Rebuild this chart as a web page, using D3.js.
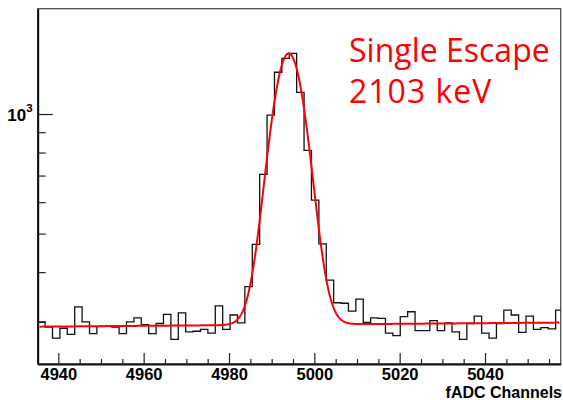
<!DOCTYPE html>
<html><head><meta charset="utf-8">
<script src="https://cdn.jsdelivr.net/npm/d3@7"></script>
<style>body{margin:0;background:#fff}svg{display:block}</style>
</head><body>
<svg id="chart" width="563" height="400"></svg>
<script>
// ---- data ----
const binStart = 4935.17;     // lower edge of first bin (fADC channel)
const binWidth = 1.734;       // channels per bin
const counts = [300,291,273,289,279,327,300,280,292,292,
                291,280,300,307,295,280,297,313,271,316,
                283,284,287,281,329,287,312,298,368,470,
                705,994,1274,1380,1421,1134,810,607,471,382,
                335,334,319,342,299,307,306,281,277,309,
                318,285,285,302,285,298,283,271,297,310,
                281,273,297,321,312,282,310,287,290,288,321];
const xMajorTicks = [4940,4960,4980,5000,5020,5040];
const xMajorLabels = ["4940","4960","4980","5000","5020","5040"];
const xMinorTicks = [4945,4950,4955,4965,4970,4975,4985,4990,4995,5005,5010,5015,5025,5030,5035,5045,5050,5055];
const yMajorTicks = [1000];
const yMajorBase = ["10"];
const yMajorExp = ["3"];
const yMinorTicks = [300,400,500,600,700,800,900];
const fitParams = [1126, 4994.0, 3.9, 295, 0.057]; // amplitude, mean, sigma, background, background slope
const annotation = ["Single Escape", "2103 keV"];
const xTitle = "fADC Channels";

// ---- layout ----
const L = 37.7, R = 560.7, T = 8.7, B = 364;
const svg = d3.select("#chart");
const x = d3.scaleLinear().domain([4935.17, 5057.74]).range([L, R]);
const y = d3.scaleLog().domain([234.9, 1841]).range([B, T]);

svg.append("defs").append("clipPath").attr("id","frame")
  .append("rect").attr("x",L).attr("y",T).attr("width",R-L).attr("height",B-T);

// frame (top/right thin)
svg.append("rect").attr("x",L).attr("y",T).attr("width",R-L).attr("height",B-T)
  .attr("fill","none").attr("stroke","#444").attr("stroke-width",1.2);

// histogram
const pts = counts.map((c,i)=>[binStart+i*binWidth, c]);
pts.push([binStart+counts.length*binWidth, counts[counts.length-1]]);
const histLine = d3.line().x(d=>x(d[0])).y(d=>y(d[1])).curve(d3.curveStepAfter);
svg.append("path").attr("clip-path","url(#frame)")
  .attr("d", histLine(pts)).attr("fill","none").attr("stroke","#111").attr("stroke-width",1.3);

// fit curve
const [A, mu, sg, bg, slope] = fitParams;
const fitX = d3.range(4935.6, 5057.6, 0.2);
const fitLine = d3.line().x(d=>x(d)).y(d=>y(A*Math.exp(-0.5*((d-mu)/sg)**2) + bg + slope*(d-mu)));
svg.append("path").attr("clip-path","url(#frame)")
  .attr("d", fitLine(fitX)).attr("fill","none").attr("stroke","#ff0000").attr("stroke-width",2);

// x axis
const font = "'Liberation Sans', Arial, Helvetica, sans-serif";
const gx = svg.append("g").attr("transform",`translate(0,${B})`);
gx.call(d3.axisBottom(x).tickValues(xMajorTicks).tickFormat((d,i)=>xMajorLabels[i])
  .tickSizeInner(-11).tickSizeOuter(0).tickPadding(4));
const gxm = svg.append("g").attr("transform",`translate(0,${B})`);
gxm.call(d3.axisBottom(x).tickValues(xMinorTicks).tickFormat("").tickSizeInner(-5).tickSizeOuter(0));
gxm.select(".domain").remove();
gx.selectAll("text").attr("font-family",font).attr("font-weight","bold").attr("font-size",16.5).attr("fill","#000");
gx.select(".domain").attr("stroke","#111").attr("stroke-width",2);
svg.selectAll(".tick line").attr("stroke","#222").attr("stroke-width",1.2);

// y axis
const gy = svg.append("g").attr("transform",`translate(${L},0)`);
gy.call(d3.axisLeft(y).tickValues(yMajorTicks).tickFormat("").tickSizeInner(-15).tickSizeOuter(0).tickPadding(5));
const gym = svg.append("g").attr("transform",`translate(${L},0)`);
gym.call(d3.axisLeft(y).tickValues(yMinorTicks).tickFormat("").tickSizeInner(-8).tickSizeOuter(0));
gym.select(".domain").remove();
gy.select(".domain").attr("stroke","#111").attr("stroke-width",2);
gy.selectAll(".tick line").attr("stroke","#222").attr("stroke-width",1.2);
gym.selectAll(".tick line").attr("stroke","#222").attr("stroke-width",1.2);
gy.selectAll(".tick text").each(function(d,i){
  const t = d3.select(this).text(null).attr("font-family",font).attr("font-weight","bold")
    .attr("font-size",17).attr("fill","#000").attr("dy","0.36em");
  t.append("tspan").text(yMajorBase[i]);
  t.append("tspan").attr("font-size",11.5).attr("dy","-0.75em").text(yMajorExp[i]);
});

// axis title
svg.append("text").attr("x",562).attr("y",398).attr("text-anchor","end")
  .attr("font-family",font).attr("font-weight","bold").attr("font-size",16).text(xTitle);

// annotation
const ann = svg.append("g").attr("fill","#ff0000").attr("font-family","'Open Sans', 'Noto Sans', sans-serif").attr("font-size",32);
ann.append("text").attr("x",349).attr("y",62).text(annotation[0]);
ann.append("text").attr("x",349).attr("y",103).attr("letter-spacing",1).text(annotation[1]);
</script>
</body></html>
